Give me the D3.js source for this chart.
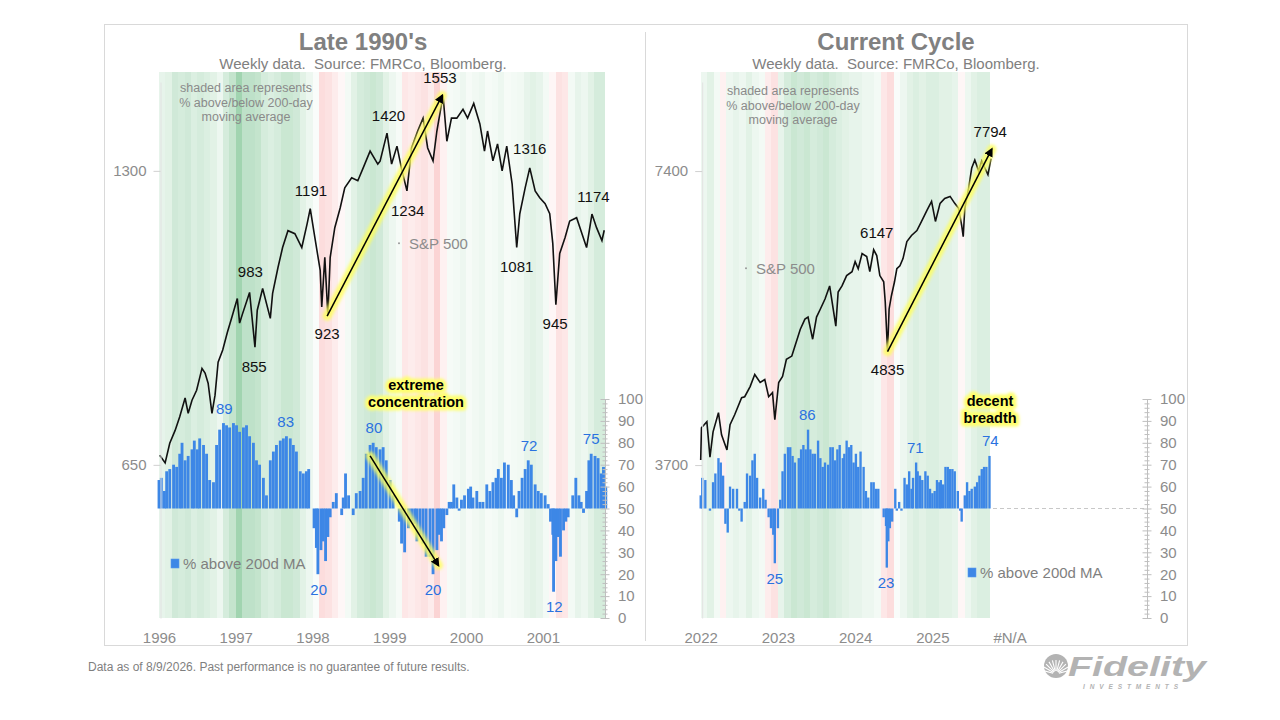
<!DOCTYPE html>
<html>
<head>
<meta charset="utf-8">
<script src="https://cdnjs.cloudflare.com/ajax/libs/d3/7.8.5/d3.min.js"></script>
<style>
    body { margin: 0; background: #fff; }
    svg { font-family: "Liberation Sans", Arial, sans-serif; }
</style>
</head>
<body>
<div id="chart-area"></div>
<script>
// ---------- Late 1990's data ----------
const lateSpxDates = [1996.01,1996.08,1996.14,1996.21,1996.27,1996.34,1996.38,1996.43,1996.49,1996.56,1996.60,1996.64,1996.69,1996.73,1996.77,1996.83,1996.89,1996.95,
    1997.02,1997.05,1997.09,1997.18,1997.25,1997.28,1997.35,1997.45,1997.48,1997.55,1997.61,1997.68,1997.77,1997.86,1997.93,1997.97,
    1998.03,1998.10,1998.12,1998.16,1998.20,1998.23,1998.29,1998.36,1998.42,1998.51,1998.59,1998.66,1998.75,1998.85,1998.88,1998.97,
    1999.03,1999.10,1999.16,1999.23,1999.29,1999.37,1999.44,1999.50,1999.57,1999.62,1999.70,1999.75,1999.81,1999.88,1999.96,
    2000.02,2000.10,2000.18,2000.24,2000.28,2000.35,2000.41,2000.47,2000.53,2000.60,2000.66,2000.70,2000.77,2000.83,2000.90,2000.96,
    2001.03,2001.09,2001.13,2001.17,2001.22,2001.29,2001.35,2001.44,2001.51,2001.57,2001.64,2001.70,2001.77,2001.80];
const lateSpxValues = [665,653,684,705,728,761,734,757,775,816,807,788,734,766,828,852,888,921,
    962,908,929,976,858,936,985,918,974,1035,1085,1129,1121,1085,1148,1189,
    1111,1028,943,1060,925,1060,1137,1191,1249,1279,1270,1309,1362,1321,1330,1421,
    1321,1378,1306,1240,1372,1428,1472,1372,1331,1428,1553,1394,1472,1472,1503,
    1472,1524,1452,1362,1428,1331,1385,1300,1378,1261,1085,1175,1249,1309,1240,1220,
    1203,1175,1095,948,1070,1111,1155,1164,1121,1085,1174,1137,1103,1130];

const lateBarDates = [1996.00,1996.03,1996.07,1996.10,1996.14,1996.19,1996.23,1996.27,1996.30,1996.34,
    1996.38,1996.43,1996.46,1996.50,1996.53,1996.58,1996.62,1996.66,1996.71,1996.75,
    1996.79,1996.84,1996.88,1996.92,1996.97,1997.01,1997.05,1997.10,1997.14,1997.18,
    1997.23,1997.27,1997.31,1997.36,1997.40,1997.45,1997.49,1997.53,1997.58,1997.62,
    1997.66,1997.71,1997.75,1997.79,1997.84,1997.88,1997.92,1997.95,1997.99,1998.02,
    1998.05,1998.07,1998.11,1998.14,1998.17,1998.20,1998.23,1998.27,1998.31,1998.36,
    1998.38,1998.40,1998.43,1998.47,1998.51,1998.53,1998.57,1998.62,1998.66,1998.70,
    1998.75,1998.79,1998.83,1998.88,1998.92,
    1998.96,1999.01,1999.05,1999.09,1999.13,1999.16,1999.20,1999.25,1999.29,
    1999.33,1999.36,1999.40,1999.44,1999.48,1999.53,1999.57,1999.62,1999.65,1999.68,
    1999.71,1999.75,1999.78,1999.81,1999.84,1999.88,1999.91,1999.94,1999.98,2000.03,
    2000.06,2000.09,2000.14,2000.18,2000.22,2000.27,2000.31,2000.35,2000.39,2000.42,
    2000.46,2000.50,2000.55,2000.59,2000.62,2000.66,2000.69,2000.73,2000.77,2000.81,
    2000.85,2000.90,2000.94,2000.98,2001.03,2001.07,2001.10,2001.13,2001.14,2001.17,
    2001.20,2001.23,2001.27,2001.30,2001.33,2001.36,2001.39,2001.43,2001.47,2001.50,
    2001.53,2001.57,2001.60,2001.63,2001.68,2001.72,2001.76,2001.79,2001.82];
const lateBreadthValues = [63,64,58,67,68,70,69,75,80,72,
    74,77,81,77,82,79,75,63,62,79,
    86,89,88,87,89,88,85,87,88,83,
    80,72,70,64,56,72,76,79,81,82,
    83,82,79,76,67,66,67,68,50,41,
    32,20,31,35,26,37,46,53,57,50,
    47,55,66,56,50,47,57,58,64,75,
    79,80,78,77,78,
    72,63,56,50,44,34,30,41,44,
    43,35,38,34,28,28,20,31,38,35,
    41,47,53,53,61,55,49,54,56,59,
    60,55,58,53,53,61,58,62,64,68,
    64,71,70,63,56,46,58,64,68,72,
    70,61,58,57,56,52,44,38,12,26,
    37,28,40,44,46,50,56,64,56,53,
    48,58,72,75,74,73,66,69,60];

// monthly % above/below 200-day, from Jan 1996
const lateShadeValues = [20,25,40,35,40,30,35,30,25,15, 35,50,80,55,55,50,35,30,35,45,
    45,40,25,15,5,-35,-30,-20,-8,10, 25,35,40,45,40,25,15,8,-25,-20,
    -25,-30,-20,-45,-15,8,10,15,8,12, 15,8,10,15,8,10,12,20,25,20,
    10,-10,-30,-25,10,20,15,25,35,35];

const lateYearTicks = [1996, 1997, 1998, 1999, 2000, 2001];
const lateYearLabels = ['1996', '1997', '1998', '1999', '2000', '2001'];
const lateSpxTicks = [650, 1300];
const lateSpxPeaks = [[1999.66, 1553], [1998.99, 1420], [2000.83, 1316], [1997.98, 1191], [2001.66, 1174], [1997.19, 983]];
const lateSpxTroughs = [[1998.19, 923], [1999.24, 1234], [2000.66, 1081], [2001.16, 945], [1997.24, 855]];
const lateBreadthPeaks = [[1996.85, 89], [1997.65, 83], [1998.80, 80], [2000.82, 72], [2001.63, 75]];
const lateBreadthTroughs = [[1998.08, 20], [1999.57, 20], [2001.15, 12]];
const lateSpxArrow = [[1998.19, 923], [1999.69, 1553]];
const lateBreadthArrow = [[1998.75, 74], [1999.64, 24]];

// ---------- Current cycle data ----------
const currSpxDates = [2022.00,2022.01,2022.08,2022.12,2022.16,2022.23,2022.27,2022.34,2022.38,2022.44,2022.53,2022.57,2022.64,2022.70,2022.77,2022.83,2022.88,2022.93,2022.96,
    2023.01,2023.06,2023.11,2023.18,2023.22,2023.29,2023.35,2023.39,2023.45,2023.50,2023.55,2023.61,2023.67,2023.75,2023.78,2023.83,2023.89,2023.96,
    2024.00,2024.04,2024.09,2024.15,2024.19,2024.24,2024.28,2024.32,2024.37,2024.39,2024.42,2024.44,2024.47,2024.51,2024.54,2024.58,2024.62,2024.67,2024.73,2024.80,2024.86,2024.93,2024.99,
    2025.04,2025.10,2025.16,2025.23,2025.29,2025.34,2025.38,2025.40,2025.42,2025.47,2025.51,2025.55,2025.60,2025.64,2025.68,2025.72,2025.76];
const currSpxValues = [3744,4040,4098,3770,4002,4186,3974,3834,4069,4166,4337,4347,4452,4581,4495,4527,4347,4389,4117,
    4495,4560,4748,4784,4896,5097,5220,5245,4978,5245,5346,5473,5645,5134,5565,5645,5784,5838,
    5977,5878,6092,6049,5838,6147,6063,5784,5700,5436,4835,5346,5516,5700,5878,5920,6020,6267,6357,6432,6571,6746,6889,
    6571,6858,6938,6971,6858,6777,6509,6341,6777,7103,7454,7595,7400,7578,7454,7337,7620];

const currBarDates = [2022.00,2022.02,2022.06,2022.09,2022.12,2022.16,2022.19,2022.23,2022.26,2022.29,
    2022.32,2022.35,2022.38,2022.42,2022.47,2022.50,2022.53,2022.57,2022.60,2022.64,
    2022.67,2022.70,2022.73,2022.77,2022.81,2022.84,2022.88,2022.91,2022.94,2022.96,
    2023.00,2023.03,2023.06,2023.09,2023.13,2023.16,2023.19,2023.22,2023.27,2023.30,
    2023.33,2023.36,2023.39,2023.42,2023.45,2023.48,2023.52,2023.55,2023.58,2023.61,
    2023.65,2023.68,2023.71,2023.74,2023.77,2023.80,2023.84,2023.86,2023.89,2023.92,
    2023.95,2023.98,2024.01,2024.04,2024.07,2024.11,2024.14,2024.17,2024.21,2024.24,
    2024.27,2024.30,2024.34,2024.37,2024.40,2024.41,2024.43,2024.45,2024.48,2024.52,
    2024.54,2024.57,2024.60,2024.64,2024.67,2024.70,2024.73,2024.75,2024.79,2024.81,
    2024.84,2024.87,2024.91,2024.94,2024.97,2025.00,2025.03,2025.06,2025.09,2025.11,
    2025.14,2025.17,2025.20,2025.23,2025.26,2025.29,2025.33,2025.36,2025.38,2025.42,
    2025.45,2025.48,2025.51,2025.55,2025.58,2025.61,2025.64,2025.67,2025.70,2025.74];
const currBreadthValues = [56,64,63,50,49,62,66,73,71,65,
    43,39,60,59,59,49,44,53,66,65,
    72,75,64,55,59,54,46,41,38,25,
    41,54,67,75,78,78,74,71,73,77,
    79,77,86,77,75,75,81,73,69,71,
    70,78,78,72,77,79,73,75,81,78,
    79,71,75,69,76,69,58,55,62,62,
    59,59,50,46,42,23,35,41,44,59,
    49,53,49,64,61,67,59,64,71,67,
    65,63,67,65,59,57,58,63,62,63,
    61,69,69,68,68,67,58,49,44,56,
    62,58,59,60,62,65,68,69,69,74];

// monthly % above/below 200-day, from Jan 2022
const currShadeValues = [15,25,10,-15,15,20,15,25,15,10, -20,-30,20,35,45,40,45,35,40,45,
    35,30,25,20,20,15,15,10,-25,-35, 5,15,25,30,25,30,30,25,25,20,
    -10,15,25,30,30];

const currYearTicks = [2022, 2023, 2024, 2025, 2026];
const currYearLabels = ['2022', '2023', '2024', '2025', '#N/A'];
const currSpxTicks = [3700, 7400];
const currSpxPeaks = [[2025.75, 7794], [2024.28, 6147]];
const currSpxTroughs = [[2024.42, 4835]];
const currBreadthPeaks = [[2023.38, 86], [2024.78, 71], [2025.75, 74]];
const currBreadthTroughs = [[2022.96, 25], [2024.40, 23]];
const currSpxArrow = [[2024.42, 4835], [2025.77, 7794]];

const breadthTicks = d3.range(0, 101, 10);
const breadthMinorTicks = d3.range(0, 101, 2);

// Colours
const grey = '#808080';
const barBlue = '#3d87e6';
const labelBlue = '#2a72e0';

// Build SVG
const svg = d3.select('#chart-area')
    .append('svg')
    .attr('width', 1280)
    .attr('height', 720);

const defs = svg.append('defs');
defs.append('marker')
    .attr('id', 'arrow-head')
    .attr('viewBox', '0 0 10 10')
    .attr('refX', 8)
    .attr('refY', 5)
    .attr('markerWidth', 9)
    .attr('markerHeight', 9)
    .attr('markerUnits', 'userSpaceOnUse')
    .attr('orient', 'auto')
    .append('path')
    .attr('d', 'M0,0 L10,5 L0,10 Z')
    .attr('fill', '#000');
defs.append('filter')
    .attr('id', 'soft')
    .attr('filterUnits', 'userSpaceOnUse')
    .attr('x', 0).attr('y', 0).attr('width', 1280).attr('height', 720)
    .append('feGaussianBlur')
    .attr('stdDeviation', 1.6);

// Frame
svg.append('rect')
    .attr('x', 104.5).attr('y', 24.5)
    .attr('width', 1083).attr('height', 621)
    .attr('fill', 'none')
    .attr('stroke', '#d9d9d9');
svg.append('line')
    .attr('x1', 645.5).attr('x2', 645.5)
    .attr('y1', 32).attr('y2', 641)
    .attr('stroke', '#d9d9d9');

const panels = [
    {
        title: "Late 1990's", cx: 363, range: [159, 605], domain: [1996, 2001.81], end: 2001.81, start: 1996,
        spxLow: 453, spxTicks: lateSpxTicks, spxDates: lateSpxDates, spxValues: lateSpxValues,
        barDates: lateBarDates, breadth: lateBreadthValues, shade: lateShadeValues, barW: 2.85,
        yearTicks: lateYearTicks, yearLabels: lateYearLabels,
        spxPeaks: lateSpxPeaks, spxTroughs: lateSpxTroughs,
        breadthPeaks: lateBreadthPeaks, breadthTroughs: lateBreadthTroughs,
        spxArrow: lateSpxArrow, breadthArrow: lateBreadthArrow,
        note: ['extreme', 'concentration'], noteAt: [416, 385],
        shadeNoteAt: [246, 88.3], spxLegendAt: [399, 243.3], legendAt: [171, 559]
    },
    {
        title: 'Current Cycle', cx: 896, range: [700.7, 1147], domain: [2022, 2027.78], end: 2025.76, start: 2022,
        spxLow: 2580, spxTicks: currSpxTicks, spxDates: currSpxDates, spxValues: currSpxValues,
        barDates: currBarDates, breadth: currBreadthValues, shade: currShadeValues, barW: 2.35,
        yearTicks: currYearTicks, yearLabels: currYearLabels,
        spxPeaks: currSpxPeaks, spxTroughs: currSpxTroughs,
        breadthPeaks: currBreadthPeaks, breadthTroughs: currBreadthTroughs,
        spxArrow: currSpxArrow, breadthArrow: null,
        note: ['decent', 'breadth'], noteAt: [990, 401],
        shadeNoteAt: [793, 91.3], spxLegendAt: [746, 268.3], legendAt: [968, 568]
    }
];

const drawArrow = (g, pts, x, y) => {
    const x1 = x(pts[0][0]), y1 = y(pts[0][1]);
    const x2 = x(pts[1][0]), y2 = y(pts[1][1]);
    g.append('line')
        .attr('x1', x1).attr('y1', y1).attr('x2', x2).attr('y2', y2)
        .attr('stroke', '#ffff5a')
        .attr('stroke-opacity', 0.8)
        .attr('stroke-width', 9)
        .attr('stroke-linecap', 'round')
        .attr('filter', 'url(#soft)');
    g.append('line')
        .attr('x1', x1).attr('y1', y1).attr('x2', x2).attr('y2', y2)
        .attr('stroke', '#000')
        .attr('stroke-width', 1.5)
        .attr('marker-end', 'url(#arrow-head)');
};

const drawPanel = (p) => {
    const g = svg.append('g');

    // X Scale
    const x = d3.scaleLinear().domain(p.domain).range(p.range);
    // S&P Scale (log)
    const y = d3.scaleLog().domain([p.spxLow, p.spxLow * Math.pow(2, 536 / 294)]).range([618, 82]);
    // Breadth Scale
    const yB = d3.scaleLinear().domain([0, 100]).range([618, 399]);

    // Shaded background
    g.append('g').selectAll('rect')
        .data(p.shade)
        .enter()
        .append('rect')
        .attr('x', (d, i) => x(p.start + i / 12))
        .attr('width', (d, i) => x(Math.min(p.start + (i + 1) / 12, p.end)) - x(p.start + i / 12))
        .attr('y', 72)
        .attr('height', 546)
        .attr('shape-rendering', 'crispEdges')
        .attr('fill', (d) => d >= 0 ? '#3aa55a' : '#ef5f5f')
        .attr('fill-opacity', (d) => Math.abs(d) / 100 * 0.6);

    // 50 line beyond data
    g.append('line')
        .attr('x1', x(p.end) + 2).attr('x2', p.range[1])
        .attr('y1', yB(50)).attr('y2', yB(50))
        .attr('stroke', '#c8c8c8')
        .attr('stroke-dasharray', '4,3');

    // Breadth bars
    g.append('g').selectAll('rect')
        .data(d3.zip(p.barDates, p.breadth))
        .enter()
        .append('rect')
        .attr('x', (d) => x(d[0]) - p.barW / 2)
        .attr('width', p.barW)
        .attr('y', (d) => Math.min(yB(d[1]), yB(50)))
        .attr('height', (d) => Math.abs(yB(d[1]) - yB(50)))
        .attr('fill', barBlue);

    // S&P line
    const line = d3.line()
        .x((d) => x(d[0]))
        .y((d) => y(d[1]));
    g.append('path')
        .datum(d3.zip(p.spxDates, p.spxValues))
        .attr('d', line)
        .attr('fill', 'none')
        .attr('stroke', '#111')
        .attr('stroke-width', 1.6)
        .attr('stroke-linejoin', 'miter');

    // Arrows
    drawArrow(g, p.spxArrow, x, y);
    if (p.breadthArrow) drawArrow(g, p.breadthArrow, x, yB);

    // S&P labels
    const spxText = (data, dy) => {
        g.append('g').selectAll('text')
            .data(data)
            .enter()
            .append('text')
            .attr('x', (d) => x(d[0]))
            .attr('y', (d) => y(d[1]) + dy)
            .attr('text-anchor', 'middle')
            .attr('dominant-baseline', 'central')
            .attr('font-size', '15px')
            .attr('fill', '#111')
            .text((d) => d[1]);
    };
    spxText(p.spxPeaks, -17.5);
    spxText(p.spxTroughs, 17.5);

    // Breadth labels
    const breadthText = (data, dy) => {
        g.append('g').selectAll('text')
            .data(data)
            .enter()
            .append('text')
            .attr('x', (d) => x(d[0]))
            .attr('y', (d) => yB(d[1]) + dy)
            .attr('text-anchor', 'middle')
            .attr('dominant-baseline', 'central')
            .attr('font-size', '15px')
            .attr('fill', labelBlue)
            .text((d) => d[1]);
    };
    breadthText(p.breadthPeaks, -15);
    breadthText(p.breadthTroughs, 15);

    // Highlighted note
    p.note.forEach((t, i) => {
        g.append('text')
            .attr('x', p.noteAt[0]).attr('y', p.noteAt[1] + i * 17.3)
            .attr('text-anchor', 'middle')
            .attr('dominant-baseline', 'central')
            .attr('font-size', '14.5px')
            .attr('font-weight', 'bold')
            .attr('fill', '#ffff6e')
            .attr('stroke', '#ffff6e')
            .attr('stroke-width', 7)
            .attr('stroke-linejoin', 'round')
            .attr('filter', 'url(#soft)')
            .text(t);
    });
    p.note.forEach((t, i) => {
        g.append('text')
            .attr('x', p.noteAt[0]).attr('y', p.noteAt[1] + i * 17.3)
            .attr('text-anchor', 'middle')
            .attr('dominant-baseline', 'central')
            .attr('font-size', '14.5px')
            .attr('font-weight', 'bold')
            .attr('fill', '#000')
            .text(t);
    });

    // Shading note
    ['shaded area represents', '% above/below 200-day', 'moving average'].forEach((t, i) => {
        g.append('text')
            .attr('x', p.shadeNoteAt[0]).attr('y', p.shadeNoteAt[1] + i * 14.2)
            .attr('text-anchor', 'middle')
            .attr('dominant-baseline', 'central')
            .attr('font-size', '12.5px')
            .attr('fill', '#8a8a8a')
            .text(t);
    });

    // S&P legend
    g.append('circle')
        .attr('cx', p.spxLegendAt[0]).attr('cy', p.spxLegendAt[1])
        .attr('r', 1)
        .attr('fill', '#999');
    g.append('text')
        .attr('x', p.spxLegendAt[0] + 10).attr('y', p.spxLegendAt[1])
        .attr('dominant-baseline', 'central')
        .attr('font-size', '15px')
        .attr('fill', '#8c8c8c')
        .text('S&P 500');

    // Breadth legend
    g.append('rect')
        .attr('x', p.legendAt[0]).attr('y', p.legendAt[1])
        .attr('width', 8).attr('height', 9)
        .attr('fill', barBlue)
        .attr('stroke', '#5b9ced')
        .attr('stroke-width', 0.6);
    g.append('text')
        .attr('x', p.legendAt[0] + 12).attr('y', p.legendAt[1] + 4.6)
        .attr('dominant-baseline', 'central')
        .attr('font-size', '15px')
        .attr('fill', '#7f7f7f')
        .text('% above 200d MA');

    // Title
    g.append('text')
        .attr('x', p.cx).attr('y', 41.7)
        .attr('text-anchor', 'middle')
        .attr('dominant-baseline', 'central')
        .attr('font-size', '24px')
        .attr('font-weight', 'bold')
        .attr('fill', grey)
        .text(p.title);
    g.append('text')
        .attr('x', p.cx).attr('y', 63.3)
        .attr('text-anchor', 'middle')
        .attr('dominant-baseline', 'central')
        .attr('font-size', '15px')
        .attr('fill', grey)
        .style('white-space', 'pre')
        .text('Weekly data.  Source: FMRCo, Bloomberg.');

    // X Axis
    const xAxisCall = d3.axisBottom(x)
        .tickValues(p.yearTicks)
        .tickFormat((d, i) => p.yearLabels[i])
        .tickSize(0)
        .tickPadding(14);
    const xAxis = g.append('g')
        .attr('transform', 'translate(0, 618)')
        .call(xAxisCall);
    xAxis.select('.domain').remove();
    xAxis.selectAll('text')
        .attr('font-size', '15px')
        .attr('font-family', 'Liberation Sans, Arial, sans-serif')
        .attr('fill', '#8c8c8c');

    // Y Axis (S&P)
    const yAxisCall = d3.axisLeft(y)
        .tickValues(p.spxTicks)
        .tickFormat(d3.format('d'))
        .tickSizeInner(7)
        .tickSizeOuter(0)
        .tickPadding(7);
    const yAxis = g.append('g')
        .attr('transform', 'translate(' + (p.range[0] + 1.5) + ', 0)')
        .call(yAxisCall);
    yAxis.select('.domain').attr('stroke', '#e2e2e2');
    yAxis.selectAll('line').attr('stroke', '#d0d0d0').attr('x2', -7);
    yAxis.selectAll('text')
        .attr('font-size', '15px')
        .attr('font-family', 'Liberation Sans, Arial, sans-serif')
        .attr('fill', '#8c8c8c');

    // Breadth Axis
    const bAxisCall = d3.axisRight(yB)
        .tickValues(breadthTicks)
        .tickSize(0)
        .tickPadding(13);
    const bAxis = g.append('g')
        .attr('transform', 'translate(' + p.range[1] + ', 0)')
        .call(bAxisCall);
    bAxis.select('.domain').attr('stroke', '#bfbfbf');
    bAxis.selectAll('text')
        .attr('font-size', '15px')
        .attr('font-family', 'Liberation Sans, Arial, sans-serif')
        .attr('fill', '#8c8c8c');
    bAxis.selectAll('.minor')
        .data(breadthMinorTicks)
        .enter()
        .append('line')
        .attr('class', 'minor')
        .attr('x1', (d) => d % 10 === 0 ? -4.5 : -2.5)
        .attr('x2', (d) => d % 10 === 0 ? 4.5 : 2.5)
        .attr('y1', (d) => yB(d) + 0.5)
        .attr('y2', (d) => yB(d) + 0.5)
        .attr('stroke', '#bfbfbf');
};

panels.forEach(drawPanel);

// Footer
svg.append('text')
    .attr('x', 88).attr('y', 667)
    .attr('dominant-baseline', 'central')
    .attr('font-size', '12px')
    .attr('fill', '#7f7f7f')
    .text('Data as of 8/9/2026. Past performance is no guarantee of future results.');

// Logo
const logo = svg.append('g').attr('fill', '#b3b3b3');
logo.append('circle').attr('cx', 1056).attr('cy', 666).attr('r', 12);
d3.range(-165, -14, 15).forEach((a) => {
    const r = a * Math.PI / 180;
    logo.append('line')
        .attr('x1', 1056 + 3 * Math.cos(r)).attr('y1', 674 + 3 * Math.sin(r))
        .attr('x2', 1056 + 14 * Math.cos(r)).attr('y2', 674 + 14 * Math.sin(r))
        .attr('stroke', '#fff')
        .attr('stroke-width', 1.1);
});
logo.append('text')
    .attr('x', 1068).attr('y', 676)
    .attr('font-size', '28px')
    .attr('font-weight', 'bold')
    .attr('font-style', 'italic')
    .attr('textLength', 138)
    .attr('lengthAdjust', 'spacingAndGlyphs')
    .text('Fidelity');
logo.append('text')
    .attr('x', 1083).attr('y', 689)
    .attr('font-size', '6.5px')
    .attr('font-weight', 'bold')
    .attr('font-style', 'italic')
    .attr('textLength', 95)
    .text('INVESTMENTS');
</script>
</body>
</html>
